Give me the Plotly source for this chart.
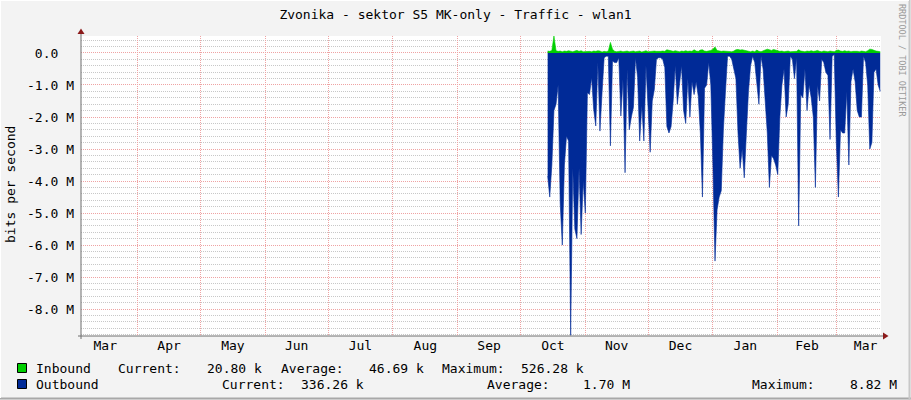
import pandas as pd
import plotly.graph_objects as go

# Datos (Mbit/s), una muestra por dia desde 2013-10-14
start_day = "2013-10-14"

outbound = [
    -3.84, -4.5, -3.5, -1.8, -1.6, -1.0, -4.7, -6.0, -3.5, -2.6,
    -2.75, -8.82, -3.6, -5.5, -5.8, -3.6, -5.67, -4.0, -5.0, -1.24,
    -1.3, -0.77, -1.76, -2.28, -0.3, -2.44, -1.24, -0.15, -0.1, -0.1,
    -2.9, -0.25, -0.3, -0.3, -0.15, -1.97, -0.82, -3.74, -0.51, -2.4,
    -2.0, -1.7, -0.15, -0.77, -2.75, -1.65, -2.75, -0.4, -1.7, -3.1,
    -1.5, -1.14, -0.2, -0.15, -0.15, -0.2, -0.45, -2.3, -2.5, -2.3,
    -1.5, -0.4, -1.6, -1.0, -0.4, -1.8, -2.2, -0.8, -2.0, -0.9,
    -1.3, -0.9, -1.35, -2.5, -4.5, -1.1, -1.0, -0.3, -1.0, -3.5,
    -6.5, -4.9, -4.5, -4.3, -2.4, -1.2, -0.1, -0.1, -0.2, -0.5,
    -0.8, -2.5, -3.6, -3.0, -3.9, -2.5, -1.2, -0.4, -0.1, -0.3,
    -1.0, -1.6, -0.1, -0.5, -1.5, -2.5, -4.2, -3.2, -3.3, -3.5,
    -3.8, -2.0, -1.0, -0.5, -2.0, -1.6, -0.1, -0.2, -0.8, -0.15,
    -5.4, -1.3, -1.4, -0.5, -1.8, -1.0, -1.4, -2.0, -4.2, -1.0,
    -1.5, -0.2, -0.3, -0.6, -0.7, -2.7, -0.1, -0.05, -2.8, -4.5,
    -2.4, -2.5, -2.5, -1.2, -3.5, -0.9, -0.5, -0.9, -1.8, -2.0,
    -2.0, -0.1, -0.3, -1.0, -3.0, -2.8, -0.6, -0.5, -1.0, -1.2,
]

inbound = [
    0.06, 0.05, 0.08, 0.53, 0.07, 0.05, 0.06, 0.04, 0.06, 0.05,
    0.07, 0.05, 0.04, 0.06, 0.08, 0.05, 0.07, 0.04, 0.05, 0.06,
    0.05, 0.04, 0.06, 0.05, 0.07, 0.06, 0.03, 0.05, 0.04, 0.06,
    0.33, 0.12, 0.05, 0.04, 0.05, 0.06, 0.04, 0.05, 0.06, 0.04,
    0.05, 0.06, 0.04, 0.05, 0.06, 0.03, 0.05, 0.07, 0.04, 0.05,
    0.04, 0.06, 0.05, 0.04, 0.05, 0.06, 0.05, 0.10, 0.09, 0.06,
    0.05, 0.07, 0.05, 0.04, 0.06, 0.05, 0.07, 0.05, 0.06, 0.05,
    0.10, 0.06, 0.05, 0.09, 0.10, 0.06, 0.05, 0.06, 0.08, 0.12,
    0.19, 0.08, 0.06, 0.05, 0.06, 0.05, 0.04, 0.05, 0.04, 0.06,
    0.10, 0.11, 0.09, 0.10, 0.09, 0.07, 0.05, 0.04, 0.06, 0.04,
    0.09, 0.05, 0.04, 0.06, 0.08, 0.12, 0.10, 0.08, 0.11, 0.09,
    0.07, 0.05, 0.06, 0.04, 0.05, 0.06, 0.04, 0.05, 0.04, 0.05,
    0.10, 0.06, 0.05, 0.04, 0.06, 0.05, 0.07, 0.05, 0.06, 0.08,
    0.05, 0.04, 0.06, 0.05, 0.04, 0.06, 0.05, 0.04, 0.08, 0.09,
    0.06, 0.05, 0.07, 0.05, 0.06, 0.04, 0.05, 0.06, 0.05, 0.04,
    0.06, 0.05, 0.04, 0.07, 0.12, 0.11, 0.08, 0.06, 0.05, 0.04,
]

y_ticks = [0, -1, -2, -3, -4, -5, -6, -7, -8]
y_labels = ["0.0\u00a0\u00a0", "-1.0 M", "-2.0 M", "-3.0 M", "-4.0 M",
            "-5.0 M", "-6.0 M", "-7.0 M", "-8.0 M"]

in_stats = ["Current:", "20.80 k", "Average:", "46.69 k", "Maximum:", "526.28 k"]
out_stats = ["Current:", "336.26 k", "Average:", "1.70 M", "Maximum:", "8.82 M"]

dates = pd.date_range(start_day, periods=len(outbound), freq="D")

# Geometria del area de dibujo (px)
L, T, W, H = 81, 36, 800, 300
FONT = "DejaVu Sans Mono"
GREEN = "#00CF00"
BLUE = "#002A97"


def px(x):
    return (x - L) / W


def py(y):
    return (T + H - y) / H


fig = go.Figure()

fig.add_trace(go.Scatter(x=dates, y=outbound, mode="lines", fill="tozeroy",
                         line=dict(color=BLUE, width=0.6), fillcolor=BLUE,
                         name="Outbound"))
fig.add_trace(go.Scatter(x=dates, y=inbound, mode="lines", fill="tozeroy",
                         line=dict(color=GREEN, width=0.6), fillcolor=GREEN,
                         name="Inbound"))

fig.update_layout(
    width=911, height=400,
    margin=dict(l=L, r=911 - L - W, t=T, b=400 - T - H, autoexpand=False),
    paper_bgcolor="#F3F3F3",
    plot_bgcolor="#FFFFFF",
    showlegend=False,
    font=dict(family=FONT, size=13, color="#000000"),
    title=dict(text="Zvonika - sektor S5 MK-only - Traffic - wlan1",
               x=0.5, xanchor="center", y=1 - 14 / 400, yanchor="middle",
               font=dict(family=FONT, size=13, color="#000000")),
)

fig.update_xaxes(
    type="date",
    range=["2013-03-04 21:36", "2014-03-22 08:40"],
    tick0="2013-03-01", dtick="M1", tickformat="%b",
    ticklabelmode="period", ticks="",
    showgrid=True, gridcolor="#EFA3A3", griddash="1px,1px", gridwidth=1,
    showline=False, zeroline=False,
    tickfont=dict(family=FONT, size=13),
)

fig.update_yaxes(
    range=[-8.84, 0.53],
    tickmode="array", tickvals=y_ticks, ticktext=y_labels,
    ticks="", ticklabelstandoff=6,
    showgrid=True, gridcolor="#EFA3A3", griddash="1px,1px", gridwidth=1,
    minor=dict(dtick=0.2, showgrid=True, gridcolor="#C8C8C8",
               griddash="1px,1px", gridwidth=1),
    showline=False, zeroline=False,
    tickfont=dict(family=FONT, size=13),
)

shapes = []
# ejes y flechas
shapes.append(dict(type="line", xref="paper", yref="paper", x0=px(81), x1=px(81),
                   y0=py(339), y1=py(31), line=dict(color="#6E6E6E", width=1)))
shapes.append(dict(type="line", xref="paper", yref="paper", x0=px(78), x1=px(884),
                   y0=py(336), y1=py(336), line=dict(color="#6E6E6E", width=1)))
shapes.append(dict(type="path", xref="paper", yref="paper",
                   path=f"M {px(77.5)} {py(34)} L {px(84.5)} {py(34)} L {px(81)} {py(28.5)} Z",
                   fillcolor="#8B1A1A", line=dict(width=0)))
shapes.append(dict(type="path", xref="paper", yref="paper",
                   path=f"M {px(883)} {py(332.5)} L {px(883)} {py(339.5)} L {px(888.5)} {py(336)} Z",
                   fillcolor="#8B1A1A", line=dict(width=0)))
# cuadros de leyenda
for y0, col in [(363.5, GREEN), (379.5, BLUE)]:
    shapes.append(dict(type="rect", xref="paper", yref="paper",
                       x0=px(17.5), x1=px(26.5), y0=py(y0 + 9), y1=py(y0),
                       fillcolor=col, line=dict(color="#000000", width=1)))
# marco exterior
shapes.append(dict(type="line", xref="paper", yref="paper", x0=px(0), x1=px(911),
                   y0=py(398.5), y1=py(398.5), line=dict(color="#A8A8A8", width=2)))
shapes.append(dict(type="line", xref="paper", yref="paper", x0=px(909.5), x1=px(909.5),
                   y0=py(0), y1=py(400), line=dict(color="#C8C8C8", width=2)))
shapes.append(dict(type="line", xref="paper", yref="paper", x0=px(0.5), x1=px(0.5),
                   y0=py(0), y1=py(398), line=dict(color="#FFFFFF", width=1)))
shapes.append(dict(type="line", xref="paper", yref="paper", x0=px(0), x1=px(909),
                   y0=py(0.5), y1=py(0.5), line=dict(color="#FFFFFF", width=1)))
fig.update_layout(shapes=shapes)


def label(text, x, y, **kw):
    fig.add_annotation(text=text, xref="paper", yref="paper", x=px(x), y=py(y),
                       xanchor=kw.pop("xanchor", "left"), yanchor="middle",
                       showarrow=False, font=dict(family=FONT, size=kw.pop("size", 13),
                                                  color=kw.pop("color", "#000000")),
                       **kw)


label("bits per second", 10, 185, xanchor="center", textangle=-90)
label("RRDTOOL / TOBI OETIKER", 902, 60, xanchor="center", textangle=90,
      size=8.5, color="#9A9A9A")

label("Inbound", 33.7, 368)
for txt, x in zip(in_stats, [116.2, 204.5, 278.9, 367.2, 440.4, 518.9]):
    label(txt, x, 368)
label("Outbound", 33.7, 384)
for txt, x in zip(out_stats, [219.6, 299.2, 485.2, 581.1, 749.6, 848.3]):
    label(txt, x, 384)

# sin margen de pagina, la figura empieza en la esquina
fig.write_html("out.html", config={"displayModeBar": False},
               post_script="document.body.style.margin='0';")
